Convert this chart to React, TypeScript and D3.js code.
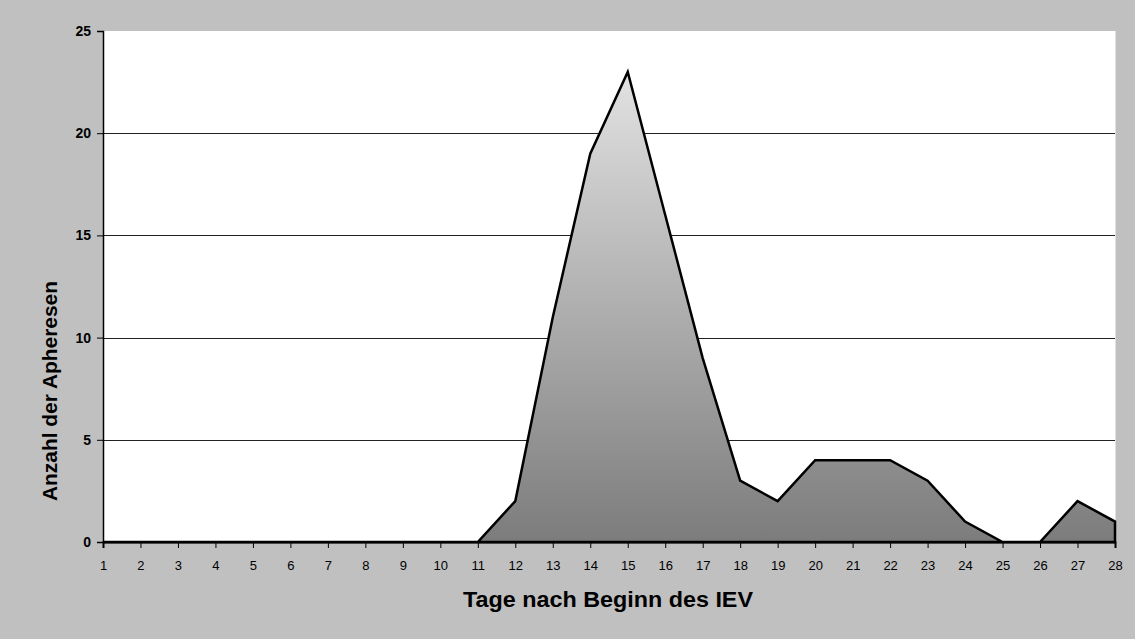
import React, { useRef, useEffect } from 'react';
import * as d3 from 'd3';

// Tage nach Beginn des IEV
const days: number[] = [
  1, 2, 3, 4, 5, 6, 7, 8, 9, 10, 11, 12, 13, 14, 15, 16, 17, 18, 19, 20, 21, 22, 23, 24, 25, 26, 27, 28,
];
// Anzahl der Apheresen pro Tag
const counts: number[] = [
  0, 0, 0, 0, 0, 0, 0, 0, 0, 0, 0, 2, 11, 19, 23, 16, 9, 3, 2, 4, 4, 4, 3, 1, 0, 0, 2, 1,
];
const yTicks: number[] = [0, 5, 10, 15, 20, 25];

const width = 1135;
const height = 639;
const font = '"Liberation Sans", Arial, sans-serif';

const App: React.FC = () => {
  const chartRef = useRef<SVGSVGElement | null>(null);

  useEffect(() => {
    if (!chartRef.current) return;
    const svg = d3.select(chartRef.current);
    svg.selectAll('*').remove();

    const margin = { top: 31, right: 20, bottom: 97, left: 103 };
    const plotW = width - margin.left - margin.right;
    const plotH = height - margin.top - margin.bottom;

    const x = d3.scalePoint<number>().domain(days).range([0, plotW]).padding(0);
    const y = d3.scaleLinear().domain([0, 25]).range([plotH, 0]);

    // Background
    svg.append('rect')
      .attr('width', width)
      .attr('height', height)
      .attr('fill', '#c0c0c0');

    const defs = svg.append('defs');
    const grad = defs.append('linearGradient')
      .attr('id', 'areaFill')
      .attr('x1', 0).attr('y1', 0)
      .attr('x2', 0).attr('y2', 1);
    grad.append('stop').attr('offset', '0%').attr('stop-color', '#e2e2e2');
    grad.append('stop').attr('offset', '100%').attr('stop-color', '#7c7c7c');

    const g = svg.append('g').attr('transform', `translate(${margin.left},${margin.top})`);

    // Plot area
    g.append('rect')
      .attr('width', plotW)
      .attr('height', plotH)
      .attr('fill', '#fff');
    g.append('line')
      .attr('x1', plotW + 0.5).attr('x2', plotW + 0.5)
      .attr('y1', 0).attr('y2', plotH)
      .attr('stroke', '#e0e0e0');

    // Gridlines
    g.selectAll('.grid')
      .data(yTicks.filter(t => t > 0 && t < 25))
      .enter()
      .append('line')
      .attr('x1', 0)
      .attr('x2', plotW)
      .attr('y1', d => Math.round(y(d)) + 0.5)
      .attr('y2', d => Math.round(y(d)) + 0.5)
      .attr('stroke', '#222')
      .attr('stroke-width', 1);

    // Area
    const area = d3.area<number>()
      .x((_, i) => x(days[i]) as number)
      .y0(y(0))
      .y1(d => y(d));

    g.append('path')
      .datum(counts)
      .attr('d', area)
      .attr('fill', 'url(#areaFill)')
      .attr('stroke', '#000')
      .attr('stroke-width', 2.5)
      .attr('stroke-linejoin', 'miter');

    // Y axis
    const yAxis = g.append('g')
      .call(d3.axisLeft(y).tickValues(yTicks).tickSize(6).tickPadding(6));
    yAxis.select('.domain').attr('stroke', '#000').attr('stroke-width', 1.5);
    yAxis.selectAll('.tick line').attr('stroke', '#000');
    yAxis.selectAll('text')
      .attr('font-family', font)
      .attr('font-size', 14)
      .attr('font-weight', 'bold')
      .attr('fill', '#000');

    // X axis
    const xAxis = g.append('g')
      .attr('transform', `translate(0,${plotH})`)
      .call(d3.axisBottom(x).tickSize(6).tickPadding(13));
    xAxis.select('.domain').attr('stroke', '#000').attr('stroke-width', 2);
    xAxis.selectAll('.tick line').attr('stroke', '#000');
    xAxis.selectAll('text')
      .attr('font-family', font)
      .attr('font-size', 13)
      .attr('fill', '#000');

    // Axis titles
    svg.append('text')
      .attr('x', 608)
      .attr('y', 607)
      .attr('text-anchor', 'middle')
      .attr('font-family', font)
      .attr('font-size', 22)
      .attr('font-weight', 'bold')
      .attr('textLength', 290)
      .attr('lengthAdjust', 'spacingAndGlyphs')
      .text('Tage nach Beginn des IEV');

    svg.append('text')
      .attr('transform', `translate(57,391) rotate(-90)`)
      .attr('text-anchor', 'middle')
      .attr('font-family', font)
      .attr('font-size', 21)
      .attr('font-weight', 'bold')
      .attr('textLength', 220)
      .attr('lengthAdjust', 'spacingAndGlyphs')
      .text('Anzahl der Apheresen');
  }, []);

  return (
    <div style={{ position: 'fixed', left: 0, top: 0 }}>
      <svg ref={chartRef} width={width} height={height} style={{ display: 'block' }} />
    </div>
  );
};

export default App;
